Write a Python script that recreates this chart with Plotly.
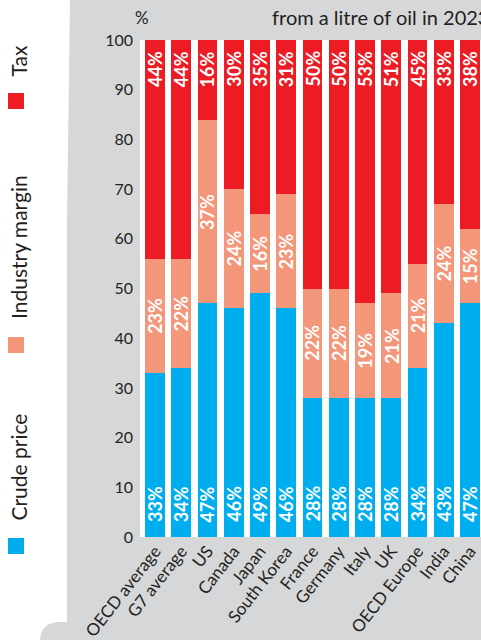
import plotly.graph_objects as go

categories = ["OECD average", "G7 average", "US", "Canada", "Japan", "South Korea",
              "France", "Germany", "Italy", "UK", "OECD Europe", "India", "China"]
crude_price = [33, 34, 47, 46, 49, 46, 28, 28, 28, 28, 34, 43, 47]
industry_margin = [23, 22, 37, 24, 16, 23, 22, 22, 19, 21, 21, 24, 15]
tax = [44, 44, 16, 30, 35, 31, 50, 50, 53, 51, 45, 33, 38]
series_names = ["Crude price", "Industry margin", "Tax"]
y_ticks = [0, 10, 20, 30, 40, 50, 60, 70, 80, 90, 100]
title_text = "from a litre of oil in 2023"
unit_text = "%"

W, H = 481, 640
ML, MR, MT, MB = 140, 0, 40, 103
PW, PH = W - ML - MR, H - MT - MB

C_CRUDE = "#00AEEF"
C_MARGIN = "#F4967A"
C_TAX = "#ED1C24"
C_TEXT = "#231F20"
C_GRAY = "#D6D7D9"
FONT = "Lato"


def px_x(px):
    return (px - ML) / PW


def px_y(py):
    return (H - MB - py) / PH


fig = go.Figure()
colors = [C_CRUDE, C_MARGIN, C_TAX]
for name, vals, col in zip(series_names, [crude_price, industry_margin, tax], colors):
    fig.add_trace(go.Bar(x=categories, y=vals, name=name, marker=dict(color=col, line=dict(width=0)),
                         showlegend=False, hoverinfo="skip"))

annotations = []
lab_font = dict(family=FONT, size=18, color="white", weight="bold")
for i, cat in enumerate(categories):
    annotations.append(dict(x=cat, y=100, xref="x", yref="y", text=f"{tax[i]}%", textangle=-90,
                            showarrow=False, yanchor="top", xanchor="center", yshift=-9, font=lab_font))
    annotations.append(dict(x=cat, y=crude_price[i] + industry_margin[i] / 2, xref="x", yref="y",
                            text=f"{industry_margin[i]}%", textangle=-90, showarrow=False,
                            yanchor="middle", xanchor="center", font=lab_font))
    annotations.append(dict(x=cat, y=0, xref="x", yref="y", text=f"{crude_price[i]}%", textangle=-90,
                            showarrow=False, yanchor="bottom", xanchor="center", yshift=13, font=lab_font))

# title / unit
annotations.append(dict(x=px_x(270), y=px_y(17), xref="paper", yref="paper", text=title_text,
                        showarrow=False, xanchor="left", yanchor="middle",
                        font=dict(family=FONT, size=20, color=C_TEXT)))
annotations.append(dict(x=px_x(142), y=px_y(17), xref="paper", yref="paper", text=unit_text,
                        showarrow=False, xanchor="center", yanchor="middle",
                        font=dict(family=FONT, size=17, color=C_TEXT)))

shapes = []
# white left region (paper bg is gray)
path_pts = [(0, 0), (70, 0), (67, 220), (67, 622), (60, 622)]
p = "M " + " L ".join(f"{px_x(a):.5f},{px_y(b):.5f}" for a, b in path_pts)
p += f" Q {px_x(40):.5f},{px_y(622):.5f} {px_x(40):.5f},{px_y(642):.5f}"
p += f" L {px_x(0):.5f},{px_y(642):.5f} Z"
shapes.append(dict(type="path", path=p, xref="paper", yref="paper", fillcolor="white",
                   line=dict(width=0), layer="below"))

# legend (rotated)
legend_items = [(series_names[2], C_TAX, 93, 79), (series_names[1], C_MARGIN, 337, 321),
                (series_names[0], C_CRUDE, 538, 523)]
for name, col, sq_top, txt_bottom in legend_items:
    shapes.append(dict(type="rect", xref="paper", yref="paper", x0=px_x(8), x1=px_x(24),
                       y0=px_y(sq_top + 16), y1=px_y(sq_top), fillcolor=col, line=dict(width=0)))
    annotations.append(dict(x=px_x(18), y=px_y(txt_bottom), xref="paper", yref="paper", text=name,
                            textangle=-90, showarrow=False, xanchor="center", yanchor="bottom",
                            font=dict(family=FONT, size=21, color=C_TEXT)))

fig.update_layout(
    width=W, height=H,
    margin=dict(l=ML, r=MR, t=MT, b=MB, pad=0, autoexpand=False),
    barmode="stack", bargap=0.24,
    paper_bgcolor=C_GRAY, plot_bgcolor="white",
    font=dict(family=FONT, color=C_TEXT),
    annotations=annotations, shapes=shapes,
    xaxis=dict(range=[-0.571, 12.419], tickangle=-52, showgrid=False, zeroline=False, showline=False,
               automargin=False,
               ticks="", tickfont=dict(family=FONT, size=17, color=C_TEXT), fixedrange=True),
    yaxis=dict(range=[0, 100], tickvals=y_ticks, showgrid=False, zeroline=False, showline=False,
               ticks="", ticklabelstandoff=6, automargin=False,
               tickfont=dict(family=FONT, size=16, color=C_TEXT), fixedrange=True),
)

fig.write_html("out.html", config=dict(displayModeBar=False),
               post_script="document.body.style.margin='0';document.body.style.overflow='hidden';")
